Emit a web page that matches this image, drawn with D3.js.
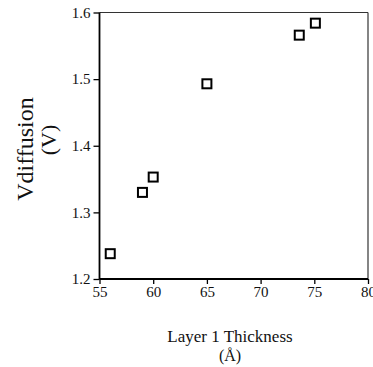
<!DOCTYPE html>
<html><head><meta charset="utf-8">
<script src="https://cdn.jsdelivr.net/npm/d3@7"></script>
<style>
html,body{margin:0;padding:0;background:#fff;}
svg{display:block;}
text{font-family:"Liberation Serif","Times New Roman",serif;fill:#111;}
</style></head>
<body>
<script>
const thickness = [56, 59, 60, 65, 73.6, 75.1];
const vdiff = [1.238, 1.330, 1.353, 1.493, 1.566, 1.584];
const xTicks = [55, 60, 65, 70, 75, 80];
const yTicks = [1.2, 1.3, 1.4, 1.5, 1.6];
const xLabel = "Layer 1 Thickness";
const xUnit = "(Å)";
const yLabel = "Vdiffusion";
const yUnit = "(V)";

const W = 373, H = 367;
const m = {left: 99.5, right: 5, top: 12.5, bottom: 88};
const svg = d3.select("body").append("svg").attr("width", W).attr("height", H);
const x = d3.scaleLinear().domain([55, 80]).range([m.left, W - m.right]);
const y = d3.scaleLinear().domain([1.2, 1.6]).range([H - m.bottom, m.top]);

// frame top & right
svg.append("line").attr("x1", x(55)).attr("x2", x(80)).attr("y1", y(1.6)).attr("y2", y(1.6))
  .attr("stroke", "#333").attr("stroke-width", 1.2);
svg.append("line").attr("x1", x(80)).attr("x2", x(80)).attr("y1", y(1.6)).attr("y2", y(1.2))
  .attr("stroke", "#333").attr("stroke-width", 1.2);

const xAxis = svg.append("g").attr("transform", `translate(0,${y(1.2)})`)
  .call(d3.axisBottom(x).tickValues(xTicks).tickFormat(d3.format("d")).tickSize(5).tickPadding(2));
const yAxis = svg.append("g").attr("transform", `translate(${x(55)},0)`)
  .call(d3.axisLeft(y).tickValues(yTicks).tickFormat(d3.format(".1f")).tickSize(6).tickPadding(3));
[xAxis, yAxis].forEach(g => {
  g.select(".domain").attr("stroke", "#000").attr("stroke-width", 1.8);
  g.selectAll(".tick line").attr("stroke", "#000").attr("stroke-width", 1.3);
  g.selectAll("text").style("font-family", '"Liberation Serif","Times New Roman",serif')
    .style("font-size", "15px").attr("fill", "#111");
});
yAxis.select(".domain").attr("d", `M0,${y(1.6)}V${y(1.2)}`);
xAxis.select(".domain").attr("d", `M${x(55)},0H${x(80)}`);

// markers
const s = 9;
svg.append("g").selectAll("rect").data(thickness.map((t, i) => [t, vdiff[i]])).join("rect")
  .attr("x", d => x(d[0]) - s / 2).attr("y", d => y(d[1]) - s / 2)
  .attr("width", s).attr("height", s)
  .attr("fill", "#fff").attr("stroke", "#000").attr("stroke-width", 2);

// x label
svg.append("text").attr("x", 230).attr("y", 342).attr("text-anchor", "middle")
  .style("font-size", "17px").text(xLabel);
svg.append("text").attr("x", 230).attr("y", 361).attr("text-anchor", "middle")
  .style("font-size", "16px").text(xUnit);

// y label
svg.append("text").attr("transform", "translate(33,149) rotate(-90)").attr("text-anchor", "middle")
  .style("font-size", "24px").text(yLabel);
svg.append("text").attr("transform", "translate(56,140) rotate(-90)").attr("text-anchor", "middle")
  .style("font-size", "22px").text(yUnit);
</script>
</body></html>
